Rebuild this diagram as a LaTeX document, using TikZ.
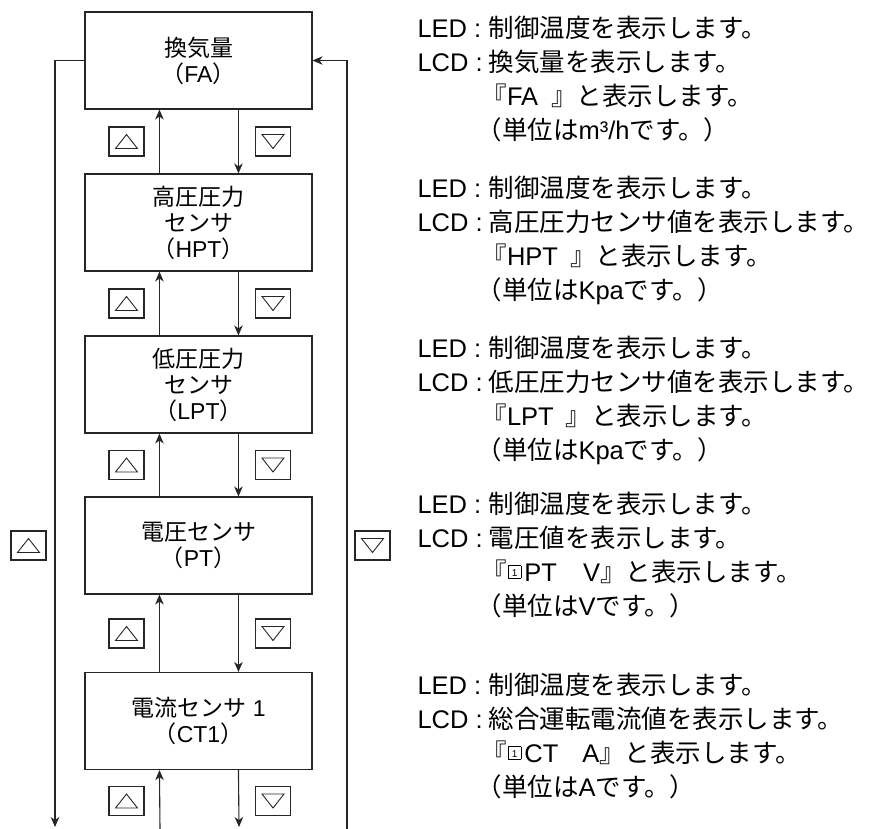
\documentclass[tikz,border=0pt]{standalone}
\usepackage{fontspec}
\setmainfont{Liberation Sans}
\newfontfamily\jp{Noto Sans CJK JP}
\usetikzlibrary{arrows.meta}
\newcommand\J[1]{{\jp #1}}
\newcommand\boxone{\hspace{1pt}\raisebox{3pt}{\setlength\fboxsep{0pt}\setlength\fboxrule{0.7pt}\fbox{\makebox[12pt]{\rule{0pt}{12pt}\raisebox{1.5pt}{\fontsize{10}{10}\selectfont 1}}}}\hspace{3pt}}
\newcommand\upbtn[3]{%
  \node[btn] (#1) at (#2,#3) {};
  \draw[tri] ([shift={(-11,7)}]#1.center) -- ([shift={(11,7)}]#1.center) -- ([shift={(0,-7)}]#1.center) -- cycle;}
\newcommand\dnbtn[3]{%
  \node[btn] (#1) at (#2,#3) {};
  \draw[tri] ([shift={(-11,-7)}]#1.center) -- ([shift={(11,-7)}]#1.center) -- ([shift={(0,7)}]#1.center) -- cycle;}
\newcommand\blk[5]{%
  \node[rt] (#1e) at (417,#2) {LED :};
  \node[rt] (#1et) at (488,#2) {\J{制御温度を表示します。}};
  \node[rt] (#1c) at (417,{#2+34}) {LCD :};
  \node[rt] (#1ct) at (488,{#2+34}) {#3};
  \node[rt] (#1g) at (481,{#2+68}) {#4};
  \node[rt] (#1u) at (476,{#2+102}) {#5};}
\begin{document}
\begin{tikzpicture}[x=1pt,y=-1pt,
  line width=1.1pt, draw=black!85,
  box/.style={draw=black!85, line width=1.1pt, minimum width=227pt, minimum height=97pt, align=center, inner sep=0pt, font=\fontsize{23}{26}\selectfont},
  btn/.style={draw=black!85, line width=1.1pt, minimum width=35pt, minimum height=29pt, inner sep=0pt},
  tri/.style={draw=black!85, line width=0.9pt, line join=miter},
  arr/.style={draw=black!85, line width=1.1pt, -{Stealth[length=10pt,width=8.5pt,inset=3pt]}},
  rt/.style={anchor=base west, inner sep=0pt, font=\fontsize{25.5}{25.5}\selectfont}]
\useasboundingbox (0,0) rectangle (874,828);

% main boxes
\node[box] (fa) at (198.5,60.5) {\J{換気量}\\\J{（}FA\J{）}};
\node[box] (hpt) at (198.5,222.5) {\J{高圧圧力}\\\J{センサ}\\\J{（}HPT\J{）}};
\node[box] (lpt) at (198.5,384.5) {\J{低圧圧力}\\\J{センサ}\\\J{（}LPT\J{）}};
\node[box] (pt) at (198.5,545.5) {\J{電圧センサ}\\\J{（}PT\J{）}};
\node[box] (ct) at (198.5,721) {\J{電流センサ} 1\\\J{（}CT1\J{）}};

% up / down arrows between boxes
\draw[arr] ([xshift=75pt]hpt.north west) -- ([xshift=75pt]fa.south west);
\draw[arr] ([xshift=154pt]fa.south west) -- ([xshift=154pt]hpt.north west);
\draw[arr] ([xshift=75pt]lpt.north west) -- ([xshift=75pt]hpt.south west);
\draw[arr] ([xshift=154pt]hpt.south west) -- ([xshift=154pt]lpt.north west);
\draw[arr] ([xshift=75pt]pt.north west) -- ([xshift=75pt]lpt.south west);
\draw[arr] ([xshift=154pt]lpt.south west) -- ([xshift=154pt]pt.north west);
\draw[arr] ([xshift=75pt]ct.north west) -- ([xshift=75pt]pt.south west);
\draw[arr] ([xshift=154pt]pt.south west) -- ([xshift=154pt]ct.north west);
\coordinate (bu) at (160,829);
\coordinate (bd) at (239,827);
\draw[arr] (bu) -- ([xshift=75pt]ct.south west);
\draw[arr] ([xshift=154pt]ct.south west) -- (bd);

% loops
\coordinate (lb) at (55,827);
\coordinate (rb) at (347,829);
\draw[arr] (fa.west) -| (lb);
\draw[arr] (rb) |- (fa.east);

% buttons
\upbtn{u1}{126.5}{141.5}\dnbtn{d1}{273}{141.5}
\upbtn{u2}{126.5}{303.5}\dnbtn{d2}{273}{303.5}
\upbtn{u3}{126.5}{465}\dnbtn{d3}{273}{465}
\upbtn{u4}{126.5}{633.5}\dnbtn{d4}{273}{633.5}
\upbtn{u5}{126.5}{801}\dnbtn{d5}{273}{801}
\upbtn{ul}{28.5}{545.5}\dnbtn{dr}{372.5}{545.5}

% right-hand texts
\blk{a}{37.5}{\J{換気量を表示します。}}{\J{『}FA\hspace{13pt}\J{』と表示します。}}{\J{（単位は}m³/h\J{です。）}}
\blk{b}{197}{\J{高圧圧力センサ値を表示します。}}{\J{『}HPT\hspace{12pt}\J{』と表示します。}}{\J{（単位は}Kpa\J{です。）}}
\blk{c}{357}{\J{低圧圧力センサ値を表示します。}}{\J{『}LPT\hspace{12pt}\J{』と表示します。}}{\J{（単位は}Kpa\J{です。）}}
\blk{d}{513}{\J{電圧値を表示します。}}{\J{『}\boxone PT\hspace{26pt}V\J{』と表示します。}}{\J{（単位は}V\J{です。）}}
\blk{e}{694}{\J{総合運転電流値を表示します。}}{\J{『}\boxone CT\hspace{24pt}A\J{』と表示します。}}{\J{（単位は}A\J{です。）}}
\end{tikzpicture}
\end{document}
